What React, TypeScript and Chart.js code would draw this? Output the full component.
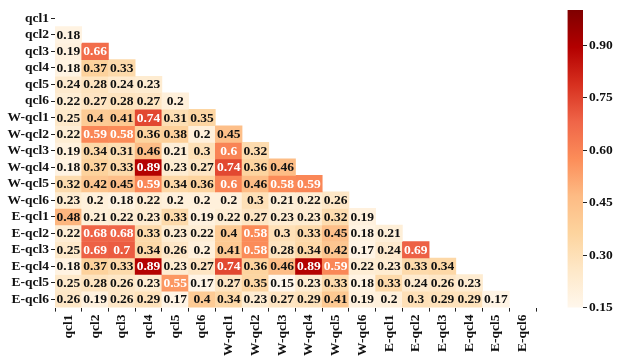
import React, { useEffect, useRef } from "react";
import { Chart, registerables } from "chart.js";

Chart.register(...registerables);

const labels = [
  "qcl1", "qcl2", "qcl3", "qcl4", "qcl5", "qcl6",
  "W-qcl1", "W-qcl2", "W-qcl3", "W-qcl4", "W-qcl5", "W-qcl6",
  "E-qcl1", "E-qcl2", "E-qcl3", "E-qcl4", "E-qcl5", "E-qcl6",
];

const rowQcl1: number[] = [];
const rowQcl2 = [0.18];
const rowQcl3 = [0.19, 0.66];
const rowQcl4 = [0.18, 0.37, 0.33];
const rowQcl5 = [0.24, 0.28, 0.24, 0.23];
const rowQcl6 = [0.22, 0.27, 0.28, 0.27, 0.2];
const rowWQcl1 = [0.25, 0.4, 0.41, 0.74, 0.31, 0.35];
const rowWQcl2 = [0.22, 0.59, 0.58, 0.36, 0.38, 0.2, 0.45];
const rowWQcl3 = [0.19, 0.34, 0.31, 0.46, 0.21, 0.3, 0.6, 0.32];
const rowWQcl4 = [0.18, 0.37, 0.33, 0.89, 0.23, 0.27, 0.74, 0.36, 0.46];
const rowWQcl5 = [0.32, 0.42, 0.45, 0.59, 0.34, 0.36, 0.6, 0.46, 0.58, 0.59];
const rowWQcl6 = [0.23, 0.2, 0.18, 0.22, 0.2, 0.2, 0.2, 0.3, 0.21, 0.22, 0.26];
const rowEQcl1 = [0.48, 0.21, 0.22, 0.23, 0.33, 0.19, 0.22, 0.27, 0.23, 0.23, 0.32, 0.19];
const rowEQcl2 = [0.22, 0.68, 0.68, 0.33, 0.23, 0.22, 0.4, 0.58, 0.3, 0.33, 0.45, 0.18, 0.21];
const rowEQcl3 = [0.25, 0.69, 0.7, 0.34, 0.26, 0.2, 0.41, 0.58, 0.28, 0.34, 0.42, 0.17, 0.24, 0.69];
const rowEQcl4 = [0.18, 0.37, 0.33, 0.89, 0.23, 0.27, 0.74, 0.36, 0.46, 0.89, 0.59, 0.22, 0.23, 0.33, 0.34];
const rowEQcl5 = [0.25, 0.28, 0.26, 0.23, 0.55, 0.17, 0.27, 0.35, 0.15, 0.23, 0.33, 0.18, 0.33, 0.24, 0.26, 0.23];
const rowEQcl6 = [0.26, 0.19, 0.26, 0.29, 0.17, 0.4, 0.34, 0.23, 0.27, 0.29, 0.41, 0.19, 0.2, 0.3, 0.29, 0.29, 0.17];

const rows = [
  rowQcl1, rowQcl2, rowQcl3, rowQcl4, rowQcl5, rowQcl6,
  rowWQcl1, rowWQcl2, rowWQcl3, rowWQcl4, rowWQcl5, rowWQcl6,
  rowEQcl1, rowEQcl2, rowEQcl3, rowEQcl4, rowEQcl5, rowEQcl6,
];

const colorbarTicks = [0.15, 0.3, 0.45, 0.6, 0.75, 0.9];
const vMin = 0.15;
const vMax = 1.0;

const ORRD = ["#fff7ec", "#fee8c8", "#fdd49e", "#fdbb84", "#fc8d59", "#ef6548", "#d7301f", "#b30000", "#7f0000"];

function hexToRgb(h: string) {
  return [parseInt(h.slice(1, 3), 16), parseInt(h.slice(3, 5), 16), parseInt(h.slice(5, 7), 16)];
}

function cmap(v: number) {
  let t = (v - vMin) / (vMax - vMin);
  t = Math.max(0, Math.min(1, t));
  const pos = t * (ORRD.length - 1);
  const i = Math.min(Math.floor(pos), ORRD.length - 2);
  const f = pos - i;
  const a = hexToRgb(ORRD[i]);
  const b = hexToRgb(ORRD[i + 1]);
  const c = a.map((x, k) => Math.round(x + (b[k] - x) * f));
  return `rgb(${c[0]},${c[1]},${c[2]})`;
}

const FONT = "'Liberation Serif', 'Times New Roman', serif";
const TXT = "#111";
const FS = 13.5;

const cellTextPlugin = {
  id: "cellText",
  afterDatasetsDraw(chart: any) {
    const ctx = chart.ctx;
    const xs = chart.scales.x;
    const ys = chart.scales.y;
    ctx.save();
    ctx.font = `bold ${FS}px ${FONT}`;
    ctx.textAlign = "center";
    ctx.textBaseline = "middle";
    rows.forEach((row, i) => {
      row.forEach((v, j) => {
        const x = xs.getPixelForValue(j);
        const y = ys.getPixelForValue(i);
        ctx.fillStyle = v > 0.5 ? "#ffffff" : TXT;
        ctx.fillText(String(v), x, y + 0.5);
      });
    });
    ctx.restore();
  },
};

export default function App() {
  const mainRef = useRef<HTMLCanvasElement>(null);
  const cbRef = useRef<HTMLCanvasElement>(null);

  useEffect(() => {
    const datasets = rows.map((row, i) => ({
      label: labels[i],
      data: labels.map((_, j) => (j < row.length ? [i - 0.5, i + 0.5] : null)),
      backgroundColor: labels.map((_, j) => (j < row.length ? cmap(row[j]) : "rgba(0,0,0,0)")),
      borderWidth: 0,
      barPercentage: 1,
      categoryPercentage: 1,
      grouped: false,
    }));

    const main = new Chart(mainRef.current!, {
      type: "bar",
      data: { labels, datasets: datasets as any },
      options: {
        responsive: false,
        animation: false,
        layout: { padding: { left: 0, right: 82, top: 7.4, bottom: 0 } },
        plugins: { legend: { display: false }, tooltip: { enabled: false } },
        scales: {
          x: {
            type: "category",
            offset: true,
            grid: { display: true, drawOnChartArea: false, drawTicks: true, tickLength: 4, tickColor: "#222" },
            border: { display: false },
            ticks: {
              autoSkip: false,
              maxRotation: 90,
              minRotation: 90,
              padding: 3,
              color: TXT,
              font: { family: FONT, size: FS, weight: "bold" },
            },
            afterFit: (s: any) => { s.height = 48.4; },
          },
          y: {
            type: "linear",
            reverse: true,
            min: -0.5,
            max: 17.5,
            grid: { display: true, drawOnChartArea: false, drawTicks: true, tickLength: 4, tickColor: "#222" },
            border: { display: false },
            afterBuildTicks: (s: any) => { s.ticks = labels.map((_, i) => ({ value: i })); },
            ticks: {
              autoSkip: false,
              padding: 2,
              color: TXT,
              font: { family: FONT, size: FS, weight: "bold" },
              callback: (v: any) => labels[v as number],
            },
            afterFit: (s: any) => { s.width = 55; },
          },
        },
      } as any,
      plugins: [cellTextPlugin],
    });

    const cb = new Chart(cbRef.current!, {
      type: "bar",
      data: {
        labels: ["cb"],
        datasets: [
          {
            data: [[vMin, vMax]] as any,
            borderWidth: 0,
            barPercentage: 1,
            categoryPercentage: 1,
            backgroundColor: (c: any) => {
              const { ctx, chartArea } = c.chart;
              if (!chartArea) return "rgba(0,0,0,0)";
              const g = ctx.createLinearGradient(0, chartArea.bottom, 0, chartArea.top);
              ORRD.forEach((col, k) => g.addColorStop(k / (ORRD.length - 1), col));
              return g;
            },
          },
        ],
      },
      options: {
        responsive: false,
        animation: false,
        layout: { padding: { left: 27.5, right: 0, top: 7.4, bottom: 48.4 } },
        plugins: { legend: { display: false }, tooltip: { enabled: false } },
        scales: {
          x: { display: false, offset: true },
          y: {
            type: "linear",
            position: "right",
            min: vMin,
            max: vMax,
            grid: { display: true, drawOnChartArea: false, drawTicks: true, tickLength: 4, tickColor: "#222" },
            border: { display: false },
            afterBuildTicks: (s: any) => { s.ticks = colorbarTicks.map((v) => ({ value: v })); },
            ticks: {
              autoSkip: false,
              padding: 2,
              color: TXT,
              font: { family: FONT, size: FS, weight: "bold" },
              callback: (v: any) => Number(v).toFixed(2),
            },
            afterFit: (s: any) => { s.width = 35; },
          },
        },
      } as any,
    });

    return () => {
      main.destroy();
      cb.destroy();
    };
  }, []);

  return (
    <div style={{ position: "fixed", left: 0, top: 0, width: 618, height: 356, background: "#fff" }}>
      <canvas ref={mainRef} width={618} height={356} style={{ position: "absolute", left: 0, top: 0 }} />
      <canvas ref={cbRef} width={78} height={356} style={{ position: "absolute", left: 540, top: 0 }} />
    </div>
  );
}
